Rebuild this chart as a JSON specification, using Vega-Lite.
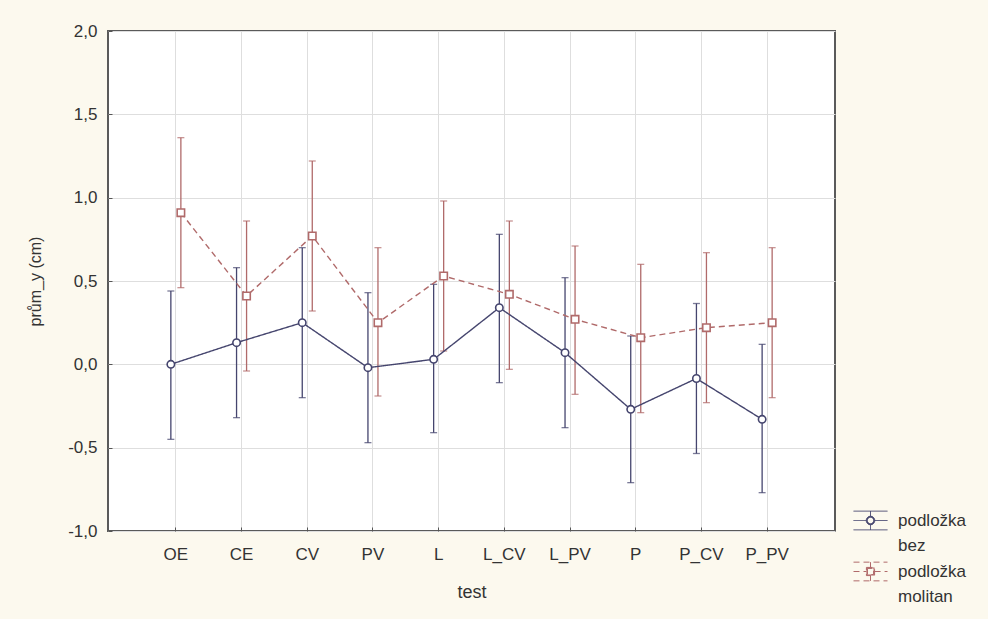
{
  "$schema": "https://vega.github.io/schema/vega-lite/v6.json",
  "width": 727,
  "height": 500,
  "autosize": {"type": "none"},
  "padding": {"left": 108, "top": 31, "right": 153, "bottom": 88},
  "background": "#fcf9ee",
  "config": {
    "font": "Liberation Sans",
    "view": {"stroke": "#5a5a5a", "strokeWidth": 2, "fill": "white"},
    "style": {"guide-label": {"lineHeight": 25}},
    "locale": {"number": {"decimal": ",", "thousands": " ", "grouping": [3], "currency": ["", ""], "minus": "-"}},
    "axis": {
      "labelFont": "Liberation Sans",
      "labelFontSize": 17,
      "labelColor": "#333333",
      "titleFont": "Liberation Sans",
      "titleFontSize": 16,
      "titleFontWeight": "normal",
      "titleColor": "#333333",
      "gridColor": "#dedede",
      "gridWidth": 1,
      "domain": false,
      "tickColor": "#555555",
      "tickSize": -4,
      "tickWidth": 1
    }
  },
  "data": {
    "values": [
      {"test": "OE", "group": "podložka bez", "mean": 0.0, "lo": -0.45, "hi": 0.44},
      {"test": "CE", "group": "podložka bez", "mean": 0.13, "lo": -0.32, "hi": 0.58},
      {"test": "CV", "group": "podložka bez", "mean": 0.25, "lo": -0.2, "hi": 0.7},
      {"test": "PV", "group": "podložka bez", "mean": -0.02, "lo": -0.47, "hi": 0.43},
      {"test": "L", "group": "podložka bez", "mean": 0.03, "lo": -0.41, "hi": 0.48},
      {"test": "L_CV", "group": "podložka bez", "mean": 0.34, "lo": -0.11, "hi": 0.78},
      {"test": "L_PV", "group": "podložka bez", "mean": 0.07, "lo": -0.38, "hi": 0.52},
      {"test": "P", "group": "podložka bez", "mean": -0.27, "lo": -0.71, "hi": 0.17},
      {"test": "P_CV", "group": "podložka bez", "mean": -0.085, "lo": -0.535, "hi": 0.365},
      {"test": "P_PV", "group": "podložka bez", "mean": -0.33, "lo": -0.77, "hi": 0.12},
      {"test": "OE", "group": "podložka molitan", "mean": 0.91, "lo": 0.46, "hi": 1.36},
      {"test": "CE", "group": "podložka molitan", "mean": 0.41, "lo": -0.04, "hi": 0.86},
      {"test": "CV", "group": "podložka molitan", "mean": 0.77, "lo": 0.32, "hi": 1.22},
      {"test": "PV", "group": "podložka molitan", "mean": 0.25, "lo": -0.19, "hi": 0.7},
      {"test": "L", "group": "podložka molitan", "mean": 0.53, "lo": 0.08, "hi": 0.98},
      {"test": "L_CV", "group": "podložka molitan", "mean": 0.42, "lo": -0.03, "hi": 0.86},
      {"test": "L_PV", "group": "podložka molitan", "mean": 0.27, "lo": -0.18, "hi": 0.71},
      {"test": "P", "group": "podložka molitan", "mean": 0.16, "lo": -0.29, "hi": 0.6},
      {"test": "P_CV", "group": "podložka molitan", "mean": 0.22, "lo": -0.23, "hi": 0.67},
      {"test": "P_PV", "group": "podložka molitan", "mean": 0.25, "lo": -0.2, "hi": 0.7}
    ]
  },
  "encoding": {
    "x": {
      "field": "test",
      "type": "nominal",
      "sort": ["OE", "CE", "CV", "PV", "L", "L_CV", "L_PV", "P", "P_CV", "P_PV"],
      "scale": {"type": "band", "paddingInner": 0.39, "paddingOuter": 0.728},
      "axis": {"title": "test", "titleFontSize": 18, "labelAngle": 0, "bandPosition": 0.5, "labelPadding": 19, "titlePadding": 21, "grid": true}
    },
    "xOffset": {
      "field": "group",
      "type": "nominal",
      "sort": ["podložka bez", "podložka molitan"],
      "scale": {"paddingInner": 0, "paddingOuter": 1}
    },
    "color": {
      "field": "group",
      "type": "nominal",
      "scale": {"domain": ["podložka bez", "podložka molitan"], "range": ["#45456e", "#b06a6a"]},
      "legend": {
        "title": null,
        "orient": "none",
        "legendX": 745,
        "legendY": 472,
        "labelFont": "Liberation Sans",
        "labelFontSize": 17,
        "labelColor": "#333333",
        "labelExpr": "split(datum.label, ' ')",
        "labelOffset": 10,
        "symbolSize": 1156,
        "symbolStrokeWidth": 1,
        "symbolOpacity": 1,
        "symbolFillColor": "white",
        "rowPadding": -6
      }
    }
  },
  "layer": [
    {
      "mark": {"type": "rule", "strokeWidth": 1.3},
      "encoding": {
        "y": {
          "field": "lo",
          "type": "quantitative",
          "scale": {"domain": [-1, 2], "nice": false, "zero": false},
          "axis": {"title": "prům_y (cm)", "values": [-1, -0.5, 0, 0.5, 1, 1.5, 2], "format": ".1f", "labelPadding": 15, "titlePadding": 24, "grid": true}
        },
        "y2": {"field": "hi"}
      }
    },
    {
      "mark": {"type": "tick", "thickness": 1.3, "size": 7},
      "encoding": {"y": {"field": "lo", "type": "quantitative", "axis": {"title": "prům_y (cm)"}}}
    },
    {
      "mark": {"type": "tick", "thickness": 1.3, "size": 7},
      "encoding": {"y": {"field": "hi", "type": "quantitative", "axis": {"title": "prům_y (cm)"}}}
    },
    {
      "mark": {"type": "line", "strokeWidth": 1.4},
      "encoding": {
        "y": {"field": "mean", "type": "quantitative", "axis": {"title": "prům_y (cm)"}},
        "strokeDash": {"field": "group", "type": "nominal", "scale": {"domain": ["podložka bez", "podložka molitan"], "range": [[1, 0], [6, 4]]}, "legend": null}
      }
    },
    {
      "transform": [{"filter": "datum.group === 'podložka bez'"}],
      "mark": {"type": "point", "shape": "circle", "filled": false, "fill": "white", "fillOpacity": 1, "opacity": 1, "size": 55, "strokeWidth": 1.6},
      "encoding": {
        "y": {"field": "mean", "type": "quantitative", "axis": {"title": "prům_y (cm)"}}
      }
    },
    {
      "transform": [{"filter": "datum.group === 'podložka molitan'"}],
      "mark": {"type": "point", "shape": "square", "filled": false, "fill": "white", "fillOpacity": 1, "opacity": 1, "size": 55, "strokeWidth": 1.6},
      "encoding": {
        "y": {"field": "mean", "type": "quantitative", "axis": {"title": "prům_y (cm)"}}
      }
    },
    {
      "mark": {"type": "point", "filled": false, "opacity": 0, "size": 10},
      "encoding": {
        "y": {"field": "mean", "type": "quantitative", "axis": {"title": "prům_y (cm)"}},
        "shape": {
          "field": "group",
          "type": "nominal",
          "scale": {
            "domain": ["podložka bez", "podložka molitan"],
            "range": [
              "M-1,-0.55H1M-1,0.55H1M0,-0.55V-0.25M0,0.25V0.55M-1,0H-0.25M0.25,0H1M0.25,0A0.25,0.25,0,1,1,-0.25,0A0.25,0.25,0,1,1,0.25,0ZM0.19,0A0.19,0.19,0,1,0,-0.19,0A0.19,0.19,0,1,0,0.19,0Z",
              "M-1,-0.55H1M-1,0.55H1M0,-0.55V-0.24M0,0.24V0.55M-1,0H-0.24M0.24,0H1M-0.24,-0.24H0.24V0.24H-0.24ZM-0.18,-0.18V0.18H0.18V-0.18Z"
            ]
          },
          "legend": {"title": null, "symbolOpacity": 1, "symbolFillColor": "white"}
        }
      }
    }
  ]
}
